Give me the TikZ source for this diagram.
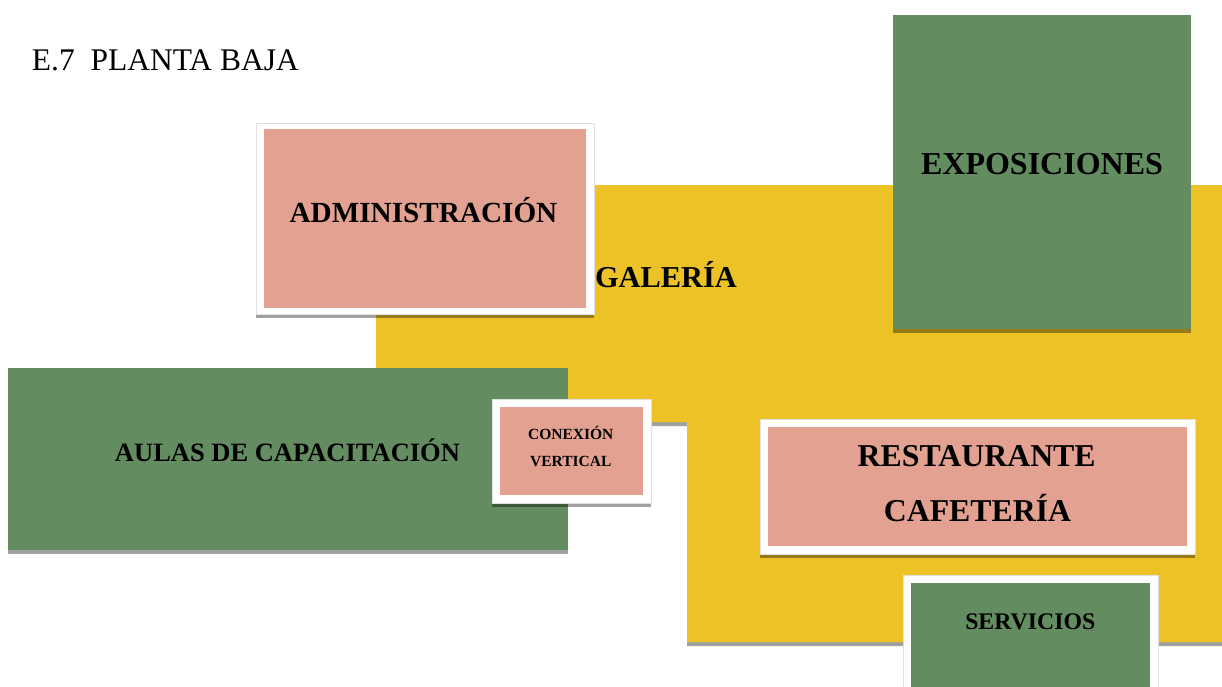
\documentclass[tikz,border=0pt]{standalone}
\usepackage{fontspec}
\setmainfont{Liberation Serif}
\usepackage{tikz}
\usetikzlibrary{shadows, positioning}
\definecolor{pbpink}{RGB}{227,161,146}
\definecolor{pbgreen}{RGB}{99,140,96}
\definecolor{pbyellow}{RGB}{236,194,38}
\newcommand{\fsz}[1]{\fontsize{#1}{1.2\dimexpr#1pt\relax}\selectfont}

\begin{document}
\begin{tikzpicture}[x=1pt, y=-1pt,
  shade/.style={drop shadow={shadow xshift=0pt, shadow yshift=-4pt, opacity=.37, fill=black}},
  frame/.style={rectangle, fill=white, draw=black!12, line width=0.5pt, inner sep=0pt, shade},
  pinkbox/.style={rectangle, fill=pbpink, inner sep=0pt},
  greenbox/.style={rectangle, fill=pbgreen, inner sep=0pt},
  lbl/.style={inner sep=0pt, anchor=base, font=\bfseries}
]
\useasboundingbox (0,0) rectangle (1222,687);
% Titulo
\node[inner sep=0pt, anchor=base west, font=\fsz{31.5}] (titulo) at (31.7,70.7) {E.7\ \ PLANTA BAJA};
% Galeria (zona en L)
\fill[pbyellow, shade] (376,185) -- (1222,185) -- (1222,642) -- (687,642) -- (687,422) -- (376,422) -- cycle;
% Administracion
\node[frame, minimum width=338, minimum height=191] (adminF) at (425,218.5) {};
\node[pinkbox, minimum width=322, minimum height=178] (admin) at (adminF.center) {};
% Exposiciones
\node[greenbox, shade, minimum width=298, minimum height=314] (expo) at (1042,172) {};
% Aulas de capacitacion
\node[greenbox, shade, minimum width=560, minimum height=182] (aulas) at (288,459) {};
% Conexion vertical
\node[frame, minimum width=159, minimum height=104] (conexF) at (571.5,451.3) {};
\node[pinkbox, minimum width=143, minimum height=88] (conex) at (conexF.center) {};
% Restaurante / cafeteria
\node[frame, minimum width=435, minimum height=135] (restF) at (977.5,486.5) {};
\node[pinkbox, minimum width=419, minimum height=119] (rest) at (restF.center) {};
% Servicios
\node[frame, minimum width=255, minimum height=117] (servF) at (1030.5,633.5) {};
\node[greenbox, minimum width=239, minimum height=105] (serv) at (1030.5,635.5) {};
% Textos
\node[lbl, font=\bfseries\fsz{29.2}] (adminT) at (423.5,222) {ADMINISTRACIÓN};
\node[lbl, font=\bfseries\fsz{30.4}] (galT) at (666,287) {GALERÍA};
\node[lbl, font=\bfseries\fsz{32}] (expoT) at (1042,175) {EXPOSICIONES};
\node[lbl, font=\bfseries\fsz{26.5}] (aulasT) at (287.5,461) {AULAS DE CAPACITACIÓN};
\node[lbl, font=\bfseries\fsz{15.5}] (conexT) at (570.8,439.3) {CONEXIÓN};
\node[lbl, font=\bfseries\fsz{15.5}] (conexT2) at (570.8,466.7) {VERTICAL};
\node[lbl, font=\bfseries\fsz{31.8}] (restT) at (976.7,466.7) {RESTAURANTE};
\node[lbl, font=\bfseries\fsz{31.8}] (restT2) at (977.5,521.7) {CAFETERÍA};
\node[lbl, font=\bfseries\fsz{23.8}] (servT) at (1030.3,629.3) {SERVICIOS};
\end{tikzpicture}
\end{document}
